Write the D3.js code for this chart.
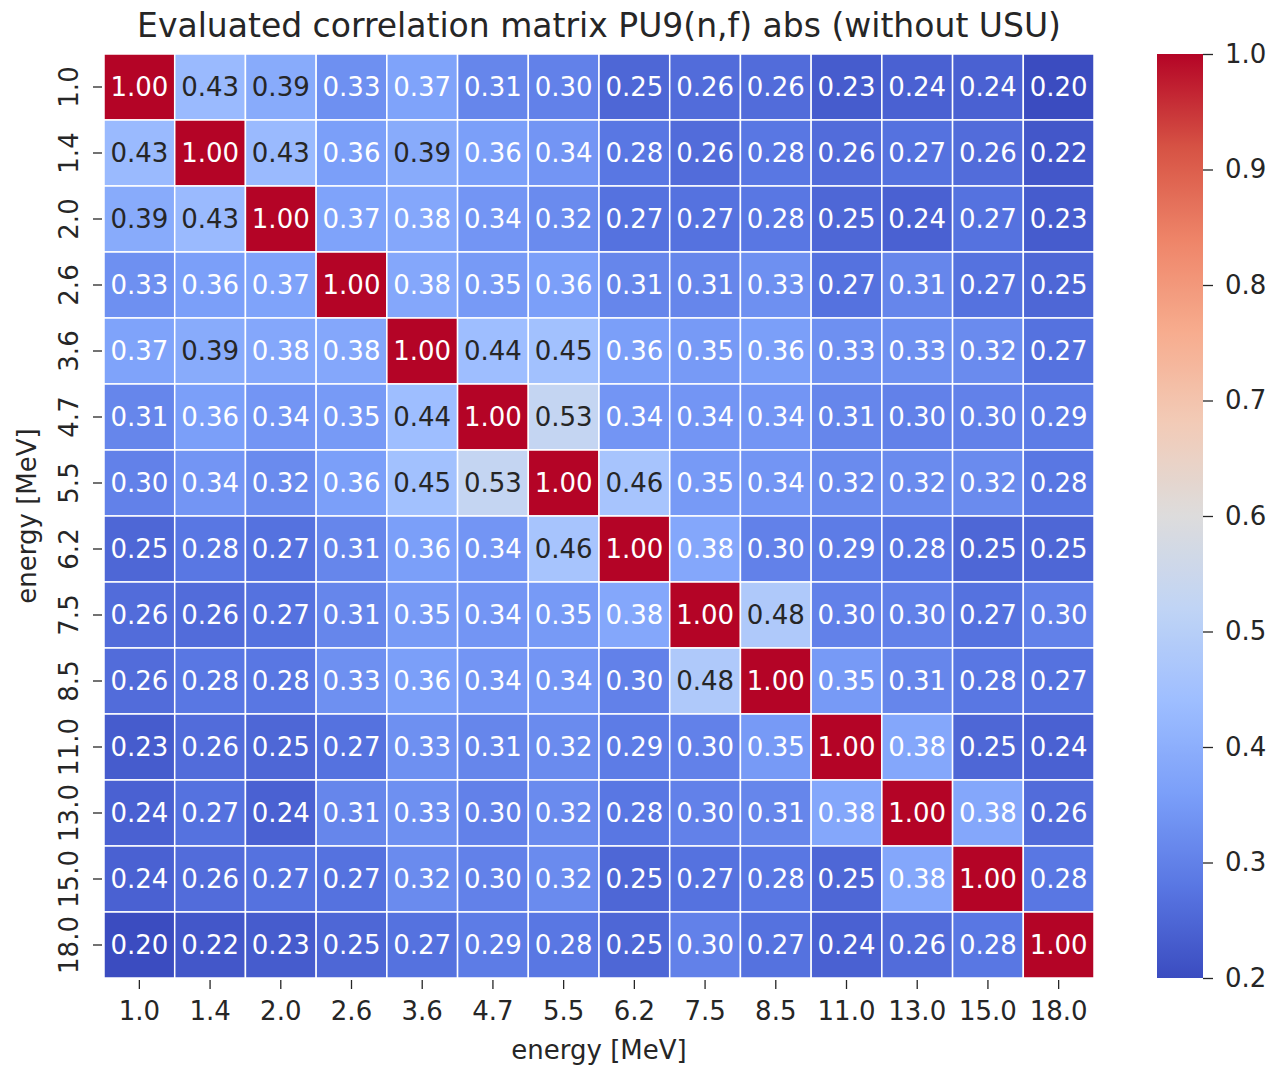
<html>
<head>
<title>Evaluated correlation matrix PU9(n,f)</title>
<script src="https://d3js.org/d3.v7.min.js" charset="utf-8"></script>
<style>
  body { margin: 0; background: #fff; }
  text { font-family: "DejaVu Sans", sans-serif; fill: #262626; }
</style>
</head>
<body>
<div id="chartcontainer"></div>
<script type="text/javascript">
// energy grid (MeV), same for rows and columns
var energies = ["1.0", "1.4", "2.0", "2.6", "3.6", "4.7", "5.5", "6.2", "7.5", "8.5", "11.0", "13.0", "15.0", "18.0"];

// correlation matrix, one array per row
var row_1_0  = [1.00, 0.43, 0.39, 0.33, 0.37, 0.31, 0.30, 0.25, 0.26, 0.26, 0.23, 0.24, 0.24, 0.20];
var row_1_4  = [0.43, 1.00, 0.43, 0.36, 0.39, 0.36, 0.34, 0.28, 0.26, 0.28, 0.26, 0.27, 0.26, 0.22];
var row_2_0  = [0.39, 0.43, 1.00, 0.37, 0.38, 0.34, 0.32, 0.27, 0.27, 0.28, 0.25, 0.24, 0.27, 0.23];
var row_2_6  = [0.33, 0.36, 0.37, 1.00, 0.38, 0.35, 0.36, 0.31, 0.31, 0.33, 0.27, 0.31, 0.27, 0.25];
var row_3_6  = [0.37, 0.39, 0.38, 0.38, 1.00, 0.44, 0.45, 0.36, 0.35, 0.36, 0.33, 0.33, 0.32, 0.27];
var row_4_7  = [0.31, 0.36, 0.34, 0.35, 0.44, 1.00, 0.53, 0.34, 0.34, 0.34, 0.31, 0.30, 0.30, 0.29];
var row_5_5  = [0.30, 0.34, 0.32, 0.36, 0.45, 0.53, 1.00, 0.46, 0.35, 0.34, 0.32, 0.32, 0.32, 0.28];
var row_6_2  = [0.25, 0.28, 0.27, 0.31, 0.36, 0.34, 0.46, 1.00, 0.38, 0.30, 0.29, 0.28, 0.25, 0.25];
var row_7_5  = [0.26, 0.26, 0.27, 0.31, 0.35, 0.34, 0.35, 0.38, 1.00, 0.48, 0.30, 0.30, 0.27, 0.30];
var row_8_5  = [0.26, 0.28, 0.28, 0.33, 0.36, 0.34, 0.34, 0.30, 0.48, 1.00, 0.35, 0.31, 0.28, 0.27];
var row_11_0 = [0.23, 0.26, 0.25, 0.27, 0.33, 0.31, 0.32, 0.29, 0.30, 0.35, 1.00, 0.38, 0.25, 0.24];
var row_13_0 = [0.24, 0.27, 0.24, 0.31, 0.33, 0.30, 0.32, 0.28, 0.30, 0.31, 0.38, 1.00, 0.38, 0.26];
var row_15_0 = [0.24, 0.26, 0.27, 0.27, 0.32, 0.30, 0.32, 0.25, 0.27, 0.28, 0.25, 0.38, 1.00, 0.28];
var row_18_0 = [0.20, 0.22, 0.23, 0.25, 0.27, 0.29, 0.28, 0.25, 0.30, 0.27, 0.24, 0.26, 0.28, 1.00];
var matrix = [row_1_0, row_1_4, row_2_0, row_2_6, row_3_6, row_4_7, row_5_5,
              row_6_2, row_7_5, row_8_5, row_11_0, row_13_0, row_15_0, row_18_0];

var cbarTicks = [0.2, 0.3, 0.4, 0.5, 0.6, 0.7, 0.8, 0.9, 1.0];

// matplotlib coolwarm, sampled at 11 points
var coolwarm = ["#3b4cc0", "#5977e3", "#7b9ff9", "#9ebeff", "#c0d4f5", "#dddcdc",
                "#f2cbb7", "#f7ac8e", "#ee8468", "#d65244", "#b40426"];
var vmin = 0.2, vmax = 1.0;
var interp = d3.piecewise(d3.interpolateRgb, coolwarm);
function color(v) {
    var t = Math.max(0, Math.min(1, (v - vmin) / (vmax - vmin)));
    return interp(t);
}
// seaborn picks dark or white text from the cell luminance
function luminance(c) {
    var rgb = d3.rgb(c);
    var lin = [rgb.r, rgb.g, rgb.b].map(function(x) {
        x = x / 255;
        return x <= 0.03928 ? x / 12.92 : Math.pow((x + 0.055) / 1.055, 2.4);
    });
    return 0.2126 * lin[0] + 0.7152 * lin[1] + 0.0722 * lin[2];
}

var W = 1271, H = 1068;
// note: "top" is taken by window.top, so use plotTop/plotBottom
var plotLeft = 104, plotRight = 1094, plotTop = 54, plotBottom = 978;
var cbLeft = 1157, cbRight = 1203;

var svg = d3.select("#chartcontainer").append("svg")
    .attr("width", W).attr("height", H);

var x = d3.scaleBand().domain(energies).range([plotLeft, plotRight]);
var y = d3.scaleBand().domain(energies).range([plotTop, plotBottom]);

var cells = [];
matrix.forEach(function(row, i) {
    row.forEach(function(v, j) {
        cells.push({ r: energies[i], c: energies[j], v: v });
    });
});

svg.append("g").selectAll("rect").data(cells).enter().append("rect")
    .attr("x", function(d) { return x(d.c); })
    .attr("y", function(d) { return y(d.r); })
    .attr("width", x.bandwidth())
    .attr("height", y.bandwidth())
    .attr("fill", function(d) { return color(d.v); })
    .attr("stroke", "#fff")
    .attr("stroke-width", 1.5);

svg.append("g").selectAll("text").data(cells).enter().append("text")
    .attr("x", function(d) { return x(d.c) + x.bandwidth() / 2; })
    .attr("y", function(d) { return y(d.r) + y.bandwidth() / 2; })
    .attr("text-anchor", "middle")
    .attr("dominant-baseline", "central")
    .style("font-size", "26px")
    .style("fill", function(d) { return luminance(color(d.v)) > 0.408 ? "#262626" : "#ffffff"; })
    .text(function(d) { return d.v.toFixed(2); });

// x axis
var xAxis = svg.append("g").attr("transform", "translate(0," + plotBottom + ")")
    .call(d3.axisBottom(x).tickSize(11).tickPadding(13));
xAxis.select(".domain").remove();
xAxis.selectAll(".tick line").attr("stroke", "#262626").attr("stroke-width", 1.3)
    .attr("y1", 2);
xAxis.selectAll(".tick text").style("font-size", "26px").style("fill", "#262626")
    .attr("font-family", null);

// y axis, labels turned vertical
var yAxis = svg.append("g").attr("transform", "translate(" + plotLeft + ",0)")
    .call(d3.axisLeft(y).tickSize(11).tickPadding(8));
yAxis.select(".domain").remove();
yAxis.selectAll(".tick line").attr("stroke", "#262626").attr("stroke-width", 1.3)
    .attr("x1", -2);
yAxis.selectAll(".tick text")
    .style("font-size", "26px").style("fill", "#262626")
    .attr("font-family", null)
    .attr("x", null).attr("dy", null)
    .attr("text-anchor", "middle")
    .attr("transform", "translate(-26,0) rotate(-90)");

svg.append("text")
    .attr("x", (plotLeft + plotRight) / 2).attr("y", 1059)
    .attr("text-anchor", "middle")
    .style("font-size", "26px")
    .text("energy [MeV]");

svg.append("text")
    .attr("transform", "translate(36," + (plotTop + plotBottom) / 2 + ") rotate(-90)")
    .attr("text-anchor", "middle")
    .style("font-size", "26px")
    .text("energy [MeV]");

svg.append("text")
    .attr("x", (plotLeft + plotRight) / 2).attr("y", 37)
    .attr("text-anchor", "middle")
    .style("font-size", "33px")
    .text("Evaluated correlation matrix PU9(n,f) abs (without USU)");

// colorbar
var cbScale = d3.scaleLinear().domain([vmin, vmax]).range([plotBottom, plotTop]);
var grad = svg.append("defs").append("linearGradient")
    .attr("id", "cbgrad").attr("x1", "0").attr("y1", "1").attr("x2", "0").attr("y2", "0");
d3.range(0, 1.0001, 0.02).forEach(function(t) {
    grad.append("stop").attr("offset", t).attr("stop-color", interp(t));
});
svg.append("rect")
    .attr("x", cbLeft).attr("y", plotTop)
    .attr("width", cbRight - cbLeft).attr("height", plotBottom - plotTop)
    .attr("fill", "url(#cbgrad)");

var cbAxis = svg.append("g").attr("transform", "translate(" + cbRight + ",0)")
    .call(d3.axisRight(cbScale).tickValues(cbarTicks).tickFormat(d3.format(".1f"))
        .tickSize(10).tickPadding(12));
cbAxis.select(".domain").remove();
cbAxis.selectAll(".tick line").attr("stroke", "#262626").attr("stroke-width", 1.3);
cbAxis.selectAll(".tick text").style("font-size", "26px").style("fill", "#262626")
    .attr("font-family", null);
</script>
</body>
</html>
